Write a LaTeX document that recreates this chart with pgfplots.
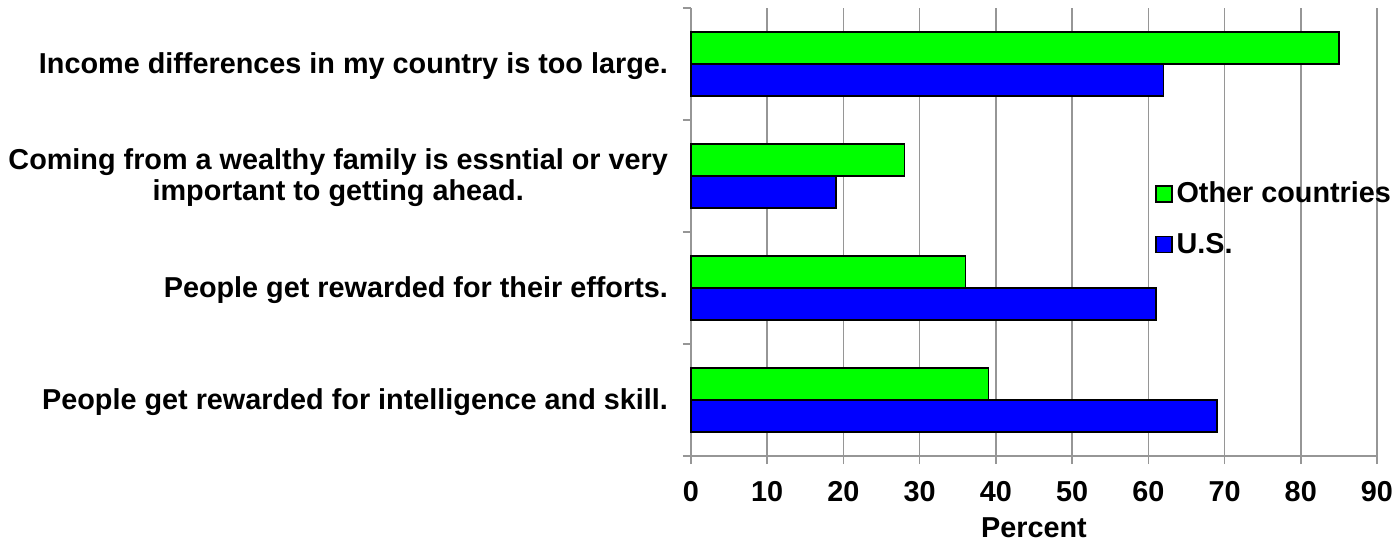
\documentclass[border=0pt]{standalone}
\usepackage{fontspec}
\setmainfont{Liberation Sans}
\usepackage{pgfplots}
\pgfplotsset{compat=1.18}

\definecolor{othergreen}{RGB}{0,255,0}
\definecolor{usblue}{RGB}{0,0,255}
\definecolor{gridgray}{RGB}{150,150,150}

\pgfplotsset{
  squarebox/.style={
    legend image code/.code={\draw[##1, draw=black] (0pt,-4pt) rectangle (8pt,4pt);}
  }
}

\begin{document}
\begin{tikzpicture}
\begin{axis}[
  name=ax,
  scale only axis,
  width=343pt, height=224pt,
  xmin=0, xmax=90,
  ymin=-0.5, ymax=3.5,
  axis lines=left,
  axis line style={draw=gridgray, line width=0.8pt, -},
  xtick={0,10,...,90},
  xmajorgrids,
  grid style={draw=gridgray, line width=0.8pt},
  tick align=outside,
  major tick length=4pt,
  tick style={draw=gridgray, line width=0.8pt},
  ytick={-0.5,0.5,1.5,2.5,3.5},
  yticklabels={},
  extra y ticks={0,1,2,3},
  extra y tick labels={
    {People get rewarded for intelligence and skill.},
    {People get rewarded for their efforts.},
    {Coming from a wealthy family is essntial or very\\important to getting ahead.},
    {Income differences in my country is too large.}},
  extra y tick style={major tick length=0pt, tick style={draw=none},
    yticklabel style={align=center, xshift=-8pt, yshift=-1pt}},
  /pgf/number format/assume math mode=true,
  ticklabel style={font=\fontsize{14.4}{15.5}\selectfont\bfseries},
  xticklabel style={yshift=-5pt},
  xlabel={Percent},
  xlabel style={font=\fontsize{14.4}{15.5}\selectfont\bfseries, yshift=-1pt},
  xbar, bar width=16pt,
  legend style={draw=none, fill=none, inner sep=0pt,
    at={(rel axis cs:0.676,0.529)}, anchor=west,
    font=\fontsize{14.4}{15.5}\selectfont\bfseries,
    row sep=9.5pt},
  legend cell align=left,
  clip=false,
]
\addplot[fill=othergreen, draw=black, line width=0.7pt, bar shift=8pt, squarebox]
  coordinates {(39,0) (36,1) (28,2) (85,3)};
\addlegendentry{Other countries}
\addplot[fill=usblue, draw=black, line width=0.7pt, bar shift=-8pt, squarebox]
  coordinates {(69,0) (61,1) (19,2) (62,3)};
\addlegendentry{U.S.}
\end{axis}
\pgfresetboundingbox
\path ([shift={(-345.5pt,-43.5pt)}]ax.south west) rectangle ([shift={(353pt,228pt)}]ax.south west);
\end{tikzpicture}
\end{document}
